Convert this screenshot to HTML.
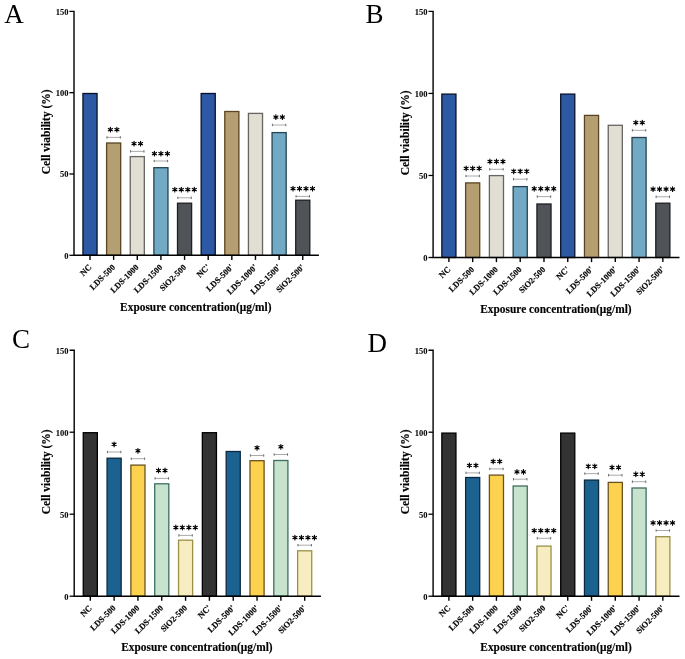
<!DOCTYPE html>
<html><head><meta charset="utf-8"><style>
html,body{margin:0;padding:0;background:#fff;}
body{width:685px;height:659px;overflow:hidden;}
svg{display:block;}
text{filter:grayscale(1);}
.let{font-family:"Liberation Serif",serif;font-size:27px;fill:#000;}
.tk{font-family:"Liberation Serif",serif;font-weight:bold;font-size:8.5px;fill:#000;stroke:#000;stroke-width:0.18px;}
.ttl{font-family:"Liberation Serif",serif;font-weight:bold;font-size:11.25px;fill:#000;stroke:#000;stroke-width:0.15px;}
.yl{font-size:11.5px;}
.xt{font-size:12px;}
.yt{stroke-width:0.05px;}
</style></head><body>
<svg width="685" height="659" viewBox="0 0 685 659">
<rect width="685" height="659" fill="#fff"/>
<text x="4.3" y="23.0" class="let">A</text>
<rect x="82.95" y="93.50" width="14.10" height="161.80" fill="#2D58A3" stroke="#081226" stroke-width="1.3"/>
<rect x="106.59" y="143.00" width="14.10" height="112.30" fill="#B59E72" stroke="#5A4422" stroke-width="1.3"/>
<rect x="130.23" y="156.60" width="14.10" height="98.70" fill="#E1DED3" stroke="#67655F" stroke-width="1.3"/>
<rect x="153.87" y="167.70" width="14.10" height="87.60" fill="#72AAC6" stroke="#24434E" stroke-width="1.3"/>
<rect x="177.51" y="203.20" width="14.10" height="52.10" fill="#505358" stroke="#1E1F22" stroke-width="1.3"/>
<rect x="201.15" y="93.50" width="14.10" height="161.80" fill="#2D58A3" stroke="#081226" stroke-width="1.3"/>
<rect x="224.79" y="111.50" width="14.10" height="143.80" fill="#B59E72" stroke="#5A4422" stroke-width="1.3"/>
<rect x="248.43" y="113.40" width="14.10" height="141.90" fill="#E1DED3" stroke="#67655F" stroke-width="1.3"/>
<rect x="272.07" y="132.60" width="14.10" height="122.70" fill="#72AAC6" stroke="#24434E" stroke-width="1.3"/>
<rect x="295.71" y="200.20" width="14.10" height="55.10" fill="#505358" stroke="#1E1F22" stroke-width="1.3"/>
<path d="M106.94 137.40H120.34" stroke="#a0a0a0" stroke-width="0.9" fill="none"/>
<path d="M106.94 136.20V138.60M120.34 136.20V138.60" stroke="#6a6a6a" stroke-width="1.0" fill="none"/>
<path d="M110.39 127.25L110.39 131.95M112.43 128.42L108.35 130.78M112.43 130.78L108.35 128.42M116.89 127.25L116.89 131.95M118.93 128.42L114.85 130.78M118.93 130.78L114.85 128.42" stroke="#000" stroke-width="1.15" stroke-linecap="round" fill="none"/>
<circle cx="110.39" cy="129.60" r="0.95"/><circle cx="116.89" cy="129.60" r="0.95"/>
<path d="M130.58 151.40H143.98" stroke="#a0a0a0" stroke-width="0.9" fill="none"/>
<path d="M130.58 150.20V152.60M143.98 150.20V152.60" stroke="#6a6a6a" stroke-width="1.0" fill="none"/>
<path d="M134.03 141.25L134.03 145.95M136.07 142.42L131.99 144.78M136.07 144.78L131.99 142.42M140.53 141.25L140.53 145.95M142.57 142.42L138.49 144.78M142.57 144.78L138.49 142.42" stroke="#000" stroke-width="1.15" stroke-linecap="round" fill="none"/>
<circle cx="134.03" cy="143.60" r="0.95"/><circle cx="140.53" cy="143.60" r="0.95"/>
<path d="M154.22 161.00H167.62" stroke="#a0a0a0" stroke-width="0.9" fill="none"/>
<path d="M154.22 159.80V162.20M167.62 159.80V162.20" stroke="#6a6a6a" stroke-width="1.0" fill="none"/>
<path d="M154.42 151.25L154.42 155.95M156.46 152.42L152.38 154.78M156.46 154.78L152.38 152.42M160.92 151.25L160.92 155.95M162.96 152.42L158.88 154.78M162.96 154.78L158.88 152.42M167.42 151.25L167.42 155.95M169.46 152.42L165.38 154.78M169.46 154.78L165.38 152.42" stroke="#000" stroke-width="1.15" stroke-linecap="round" fill="none"/>
<circle cx="154.42" cy="153.60" r="0.95"/><circle cx="160.92" cy="153.60" r="0.95"/><circle cx="167.42" cy="153.60" r="0.95"/>
<path d="M177.86 197.80H191.26" stroke="#a0a0a0" stroke-width="0.9" fill="none"/>
<path d="M177.86 196.60V199.00M191.26 196.60V199.00" stroke="#6a6a6a" stroke-width="1.0" fill="none"/>
<path d="M174.81 187.25L174.81 191.95M176.85 188.42L172.77 190.78M176.85 190.78L172.77 188.42M181.31 187.25L181.31 191.95M183.35 188.42L179.27 190.78M183.35 190.78L179.27 188.42M187.81 187.25L187.81 191.95M189.85 188.42L185.77 190.78M189.85 190.78L185.77 188.42M194.31 187.25L194.31 191.95M196.35 188.42L192.27 190.78M196.35 190.78L192.27 188.42" stroke="#000" stroke-width="1.15" stroke-linecap="round" fill="none"/>
<circle cx="174.81" cy="189.60" r="0.95"/><circle cx="181.31" cy="189.60" r="0.95"/><circle cx="187.81" cy="189.60" r="0.95"/><circle cx="194.31" cy="189.60" r="0.95"/>
<path d="M272.42 125.00H285.82" stroke="#a0a0a0" stroke-width="0.9" fill="none"/>
<path d="M272.42 123.80V126.20M285.82 123.80V126.20" stroke="#6a6a6a" stroke-width="1.0" fill="none"/>
<path d="M275.87 114.75L275.87 119.45M277.91 115.92L273.83 118.27M277.91 118.27L273.83 115.92M282.37 114.75L282.37 119.45M284.41 115.92L280.33 118.27M284.41 118.27L280.33 115.92" stroke="#000" stroke-width="1.15" stroke-linecap="round" fill="none"/>
<circle cx="275.87" cy="117.10" r="0.95"/><circle cx="282.37" cy="117.10" r="0.95"/>
<path d="M296.06 196.40H309.46" stroke="#a0a0a0" stroke-width="0.9" fill="none"/>
<path d="M296.06 195.20V197.60M309.46 195.20V197.60" stroke="#6a6a6a" stroke-width="1.0" fill="none"/>
<path d="M293.01 186.25L293.01 190.95M295.05 187.42L290.97 189.78M295.05 189.78L290.97 187.42M299.51 186.25L299.51 190.95M301.55 187.42L297.47 189.78M301.55 189.78L297.47 187.42M306.01 186.25L306.01 190.95M308.05 187.42L303.97 189.78M308.05 189.78L303.97 187.42M312.51 186.25L312.51 190.95M314.55 187.42L310.47 189.78M314.55 189.78L310.47 187.42" stroke="#000" stroke-width="1.15" stroke-linecap="round" fill="none"/>
<circle cx="293.01" cy="188.60" r="0.95"/><circle cx="299.51" cy="188.60" r="0.95"/><circle cx="306.01" cy="188.60" r="0.95"/><circle cx="312.51" cy="188.60" r="0.95"/>
<path d="M69.40 11.35H74.00V255.30H318.90" stroke="#000" stroke-width="1.4" fill="none" stroke-linejoin="miter"/>
<path d="M69.40 255.30H74.00" stroke="#000" stroke-width="1.3"/>
<text x="68.40" y="258.60" class="tk yt" text-anchor="end">0</text>
<path d="M69.40 173.98H74.00" stroke="#000" stroke-width="1.3"/>
<text x="68.40" y="177.28" class="tk yt" text-anchor="end">50</text>
<path d="M69.40 92.67H74.00" stroke="#000" stroke-width="1.3"/>
<text x="68.40" y="95.97" class="tk yt" text-anchor="end">100</text>
<text x="68.40" y="14.65" class="tk yt" text-anchor="end">150</text>
<path d="M90.00 255.30V259.90" stroke="#000" stroke-width="1.4"/>
<text transform="translate(92.10 267.70) rotate(-45)" class="tk" text-anchor="end">NC</text>
<path d="M113.64 255.30V259.90" stroke="#000" stroke-width="1.4"/>
<text transform="translate(115.74 267.70) rotate(-45)" class="tk" text-anchor="end">LDS-500</text>
<path d="M137.28 255.30V259.90" stroke="#000" stroke-width="1.4"/>
<text transform="translate(139.38 267.70) rotate(-45)" class="tk" text-anchor="end">LDS-1000</text>
<path d="M160.92 255.30V259.90" stroke="#000" stroke-width="1.4"/>
<text transform="translate(163.02 267.70) rotate(-45)" class="tk" text-anchor="end">LDS-1500</text>
<path d="M184.56 255.30V259.90" stroke="#000" stroke-width="1.4"/>
<text transform="translate(186.66 267.70) rotate(-45)" class="tk" text-anchor="end">SiO2-500</text>
<path d="M208.20 255.30V259.90" stroke="#000" stroke-width="1.4"/>
<text transform="translate(210.30 267.70) rotate(-45)" class="tk" text-anchor="end">NC&#39;</text>
<path d="M231.84 255.30V259.90" stroke="#000" stroke-width="1.4"/>
<text transform="translate(233.94 267.70) rotate(-45)" class="tk" text-anchor="end">LDS-500&#39;</text>
<path d="M255.48 255.30V259.90" stroke="#000" stroke-width="1.4"/>
<text transform="translate(257.58 267.70) rotate(-45)" class="tk" text-anchor="end">LDS-1000&#39;</text>
<path d="M279.12 255.30V259.90" stroke="#000" stroke-width="1.4"/>
<text transform="translate(281.22 267.70) rotate(-45)" class="tk" text-anchor="end">LDS-1500&#39;</text>
<path d="M302.76 255.30V259.90" stroke="#000" stroke-width="1.4"/>
<text transform="translate(304.86 267.70) rotate(-45)" class="tk" text-anchor="end">SiO2-500&#39;</text>
<text transform="translate(50.00 131.85) rotate(-90)" class="ttl yl" text-anchor="middle">Cell viability (%)</text>
<text transform="translate(271.50 310.60) scale(0.95 1)" class="ttl xt" text-anchor="end">Exposure concentration(μg/ml)</text>
<text x="365.6" y="23.1" class="let">B</text>
<rect x="441.85" y="94.10" width="14.10" height="163.40" fill="#2D58A3" stroke="#081226" stroke-width="1.3"/>
<rect x="465.62" y="182.90" width="14.10" height="74.60" fill="#B59E72" stroke="#5A4422" stroke-width="1.3"/>
<rect x="489.39" y="175.60" width="14.10" height="81.90" fill="#E1DED3" stroke="#67655F" stroke-width="1.3"/>
<rect x="513.16" y="186.60" width="14.10" height="70.90" fill="#72AAC6" stroke="#24434E" stroke-width="1.3"/>
<rect x="536.93" y="204.00" width="14.10" height="53.50" fill="#505358" stroke="#1E1F22" stroke-width="1.3"/>
<rect x="560.70" y="94.10" width="14.10" height="163.40" fill="#2D58A3" stroke="#081226" stroke-width="1.3"/>
<rect x="584.47" y="115.40" width="14.10" height="142.10" fill="#B59E72" stroke="#5A4422" stroke-width="1.3"/>
<rect x="608.24" y="125.30" width="14.10" height="132.20" fill="#E1DED3" stroke="#67655F" stroke-width="1.3"/>
<rect x="632.01" y="137.50" width="14.10" height="120.00" fill="#72AAC6" stroke="#24434E" stroke-width="1.3"/>
<rect x="655.78" y="203.20" width="14.10" height="54.30" fill="#505358" stroke="#1E1F22" stroke-width="1.3"/>
<path d="M465.97 176.00H479.37" stroke="#a0a0a0" stroke-width="0.9" fill="none"/>
<path d="M465.97 174.80V177.20M479.37 174.80V177.20" stroke="#6a6a6a" stroke-width="1.0" fill="none"/>
<path d="M466.17 166.05L466.17 170.75M468.21 167.22L464.13 169.58M468.21 169.58L464.13 167.22M472.67 166.05L472.67 170.75M474.71 167.22L470.63 169.58M474.71 169.58L470.63 167.22M479.17 166.05L479.17 170.75M481.21 167.22L477.13 169.58M481.21 169.58L477.13 167.22" stroke="#000" stroke-width="1.15" stroke-linecap="round" fill="none"/>
<circle cx="466.17" cy="168.40" r="0.95"/><circle cx="472.67" cy="168.40" r="0.95"/><circle cx="479.17" cy="168.40" r="0.95"/>
<path d="M489.74 169.30H503.14" stroke="#a0a0a0" stroke-width="0.9" fill="none"/>
<path d="M489.74 168.10V170.50M503.14 168.10V170.50" stroke="#6a6a6a" stroke-width="1.0" fill="none"/>
<path d="M489.94 159.15L489.94 163.85M491.98 160.32L487.90 162.68M491.98 162.68L487.90 160.32M496.44 159.15L496.44 163.85M498.48 160.32L494.40 162.68M498.48 162.68L494.40 160.32M502.94 159.15L502.94 163.85M504.98 160.32L500.90 162.68M504.98 162.68L500.90 160.32" stroke="#000" stroke-width="1.15" stroke-linecap="round" fill="none"/>
<circle cx="489.94" cy="161.50" r="0.95"/><circle cx="496.44" cy="161.50" r="0.95"/><circle cx="502.94" cy="161.50" r="0.95"/>
<path d="M513.51 179.20H526.91" stroke="#a0a0a0" stroke-width="0.9" fill="none"/>
<path d="M513.51 178.00V180.40M526.91 178.00V180.40" stroke="#6a6a6a" stroke-width="1.0" fill="none"/>
<path d="M513.71 168.95L513.71 173.65M515.75 170.12L511.67 172.47M515.75 172.47L511.67 170.12M520.21 168.95L520.21 173.65M522.25 170.12L518.17 172.47M522.25 172.47L518.17 170.12M526.71 168.95L526.71 173.65M528.75 170.12L524.67 172.47M528.75 172.47L524.67 170.12" stroke="#000" stroke-width="1.15" stroke-linecap="round" fill="none"/>
<circle cx="513.71" cy="171.30" r="0.95"/><circle cx="520.21" cy="171.30" r="0.95"/><circle cx="526.71" cy="171.30" r="0.95"/>
<path d="M537.28 196.60H550.68" stroke="#a0a0a0" stroke-width="0.9" fill="none"/>
<path d="M537.28 195.40V197.80M550.68 195.40V197.80" stroke="#6a6a6a" stroke-width="1.0" fill="none"/>
<path d="M534.23 186.35L534.23 191.05M536.27 187.52L532.19 189.88M536.27 189.88L532.19 187.52M540.73 186.35L540.73 191.05M542.77 187.52L538.69 189.88M542.77 189.88L538.69 187.52M547.23 186.35L547.23 191.05M549.27 187.52L545.19 189.88M549.27 189.88L545.19 187.52M553.73 186.35L553.73 191.05M555.77 187.52L551.69 189.88M555.77 189.88L551.69 187.52" stroke="#000" stroke-width="1.15" stroke-linecap="round" fill="none"/>
<circle cx="534.23" cy="188.70" r="0.95"/><circle cx="540.73" cy="188.70" r="0.95"/><circle cx="547.23" cy="188.70" r="0.95"/><circle cx="553.73" cy="188.70" r="0.95"/>
<path d="M632.36 130.30H645.76" stroke="#a0a0a0" stroke-width="0.9" fill="none"/>
<path d="M632.36 129.10V131.50M645.76 129.10V131.50" stroke="#6a6a6a" stroke-width="1.0" fill="none"/>
<path d="M635.81 120.25L635.81 124.95M637.85 121.42L633.77 123.77M637.85 123.77L633.77 121.42M642.31 120.25L642.31 124.95M644.35 121.42L640.27 123.77M644.35 123.77L640.27 121.42" stroke="#000" stroke-width="1.15" stroke-linecap="round" fill="none"/>
<circle cx="635.81" cy="122.60" r="0.95"/><circle cx="642.31" cy="122.60" r="0.95"/>
<path d="M656.13 196.80H669.53" stroke="#a0a0a0" stroke-width="0.9" fill="none"/>
<path d="M656.13 195.60V198.00M669.53 195.60V198.00" stroke="#6a6a6a" stroke-width="1.0" fill="none"/>
<path d="M653.08 186.75L653.08 191.45M655.12 187.92L651.04 190.28M655.12 190.28L651.04 187.92M659.58 186.75L659.58 191.45M661.62 187.92L657.54 190.28M661.62 190.28L657.54 187.92M666.08 186.75L666.08 191.45M668.12 187.92L664.04 190.28M668.12 190.28L664.04 187.92M672.58 186.75L672.58 191.45M674.62 187.92L670.54 190.28M674.62 190.28L670.54 187.92" stroke="#000" stroke-width="1.15" stroke-linecap="round" fill="none"/>
<circle cx="653.08" cy="189.10" r="0.95"/><circle cx="659.58" cy="189.10" r="0.95"/><circle cx="666.08" cy="189.10" r="0.95"/><circle cx="672.58" cy="189.10" r="0.95"/>
<path d="M428.50 11.40H433.10V257.50H679.50" stroke="#000" stroke-width="1.4" fill="none" stroke-linejoin="miter"/>
<path d="M428.50 257.50H433.10" stroke="#000" stroke-width="1.3"/>
<text x="427.50" y="260.80" class="tk yt" text-anchor="end">0</text>
<path d="M428.50 175.47H433.10" stroke="#000" stroke-width="1.3"/>
<text x="427.50" y="178.77" class="tk yt" text-anchor="end">50</text>
<path d="M428.50 93.43H433.10" stroke="#000" stroke-width="1.3"/>
<text x="427.50" y="96.73" class="tk yt" text-anchor="end">100</text>
<text x="427.50" y="14.70" class="tk yt" text-anchor="end">150</text>
<path d="M448.90 257.50V262.10" stroke="#000" stroke-width="1.4"/>
<text transform="translate(451.00 269.90) rotate(-45)" class="tk" text-anchor="end">NC</text>
<path d="M472.67 257.50V262.10" stroke="#000" stroke-width="1.4"/>
<text transform="translate(474.77 269.90) rotate(-45)" class="tk" text-anchor="end">LDS-500</text>
<path d="M496.44 257.50V262.10" stroke="#000" stroke-width="1.4"/>
<text transform="translate(498.54 269.90) rotate(-45)" class="tk" text-anchor="end">LDS-1000</text>
<path d="M520.21 257.50V262.10" stroke="#000" stroke-width="1.4"/>
<text transform="translate(522.31 269.90) rotate(-45)" class="tk" text-anchor="end">LDS-1500</text>
<path d="M543.98 257.50V262.10" stroke="#000" stroke-width="1.4"/>
<text transform="translate(546.08 269.90) rotate(-45)" class="tk" text-anchor="end">SiO2-500</text>
<path d="M567.75 257.50V262.10" stroke="#000" stroke-width="1.4"/>
<text transform="translate(569.85 269.90) rotate(-45)" class="tk" text-anchor="end">NC&#39;</text>
<path d="M591.52 257.50V262.10" stroke="#000" stroke-width="1.4"/>
<text transform="translate(593.62 269.90) rotate(-45)" class="tk" text-anchor="end">LDS-500&#39;</text>
<path d="M615.29 257.50V262.10" stroke="#000" stroke-width="1.4"/>
<text transform="translate(617.39 269.90) rotate(-45)" class="tk" text-anchor="end">LDS-1000&#39;</text>
<path d="M639.06 257.50V262.10" stroke="#000" stroke-width="1.4"/>
<text transform="translate(641.16 269.90) rotate(-45)" class="tk" text-anchor="end">LDS-1500&#39;</text>
<path d="M662.83 257.50V262.10" stroke="#000" stroke-width="1.4"/>
<text transform="translate(664.93 269.90) rotate(-45)" class="tk" text-anchor="end">SiO2-500&#39;</text>
<text transform="translate(408.80 132.85) rotate(-90)" class="ttl yl" text-anchor="middle">Cell viability (%)</text>
<text transform="translate(631.60 312.60) scale(0.95 1)" class="ttl xt" text-anchor="end">Exposure concentration(μg/ml)</text>
<text x="11.9" y="347.7" class="let">C</text>
<rect x="83.25" y="432.70" width="14.10" height="163.50" fill="#333333" stroke="#000000" stroke-width="1.3"/>
<rect x="107.07" y="458.20" width="14.10" height="138.00" fill="#1B6291" stroke="#0B2A40" stroke-width="1.3"/>
<rect x="130.89" y="465.10" width="14.10" height="131.10" fill="#FDD24F" stroke="#6A5220" stroke-width="1.3"/>
<rect x="154.71" y="483.80" width="14.10" height="112.40" fill="#C7E3CD" stroke="#3E6D61" stroke-width="1.3"/>
<rect x="178.53" y="540.20" width="14.10" height="56.00" fill="#F7EDC1" stroke="#999147" stroke-width="1.3"/>
<rect x="202.35" y="432.70" width="14.10" height="163.50" fill="#333333" stroke="#000000" stroke-width="1.3"/>
<rect x="226.17" y="451.50" width="14.10" height="144.70" fill="#1B6291" stroke="#0B2A40" stroke-width="1.3"/>
<rect x="249.99" y="460.70" width="14.10" height="135.50" fill="#FDD24F" stroke="#6A5220" stroke-width="1.3"/>
<rect x="273.81" y="460.50" width="14.10" height="135.70" fill="#C7E3CD" stroke="#3E6D61" stroke-width="1.3"/>
<rect x="297.63" y="550.80" width="14.10" height="45.40" fill="#F7EDC1" stroke="#999147" stroke-width="1.3"/>
<path d="M107.42 452.00H120.82" stroke="#a0a0a0" stroke-width="0.9" fill="none"/>
<path d="M107.42 450.80V453.20M120.82 450.80V453.20" stroke="#6a6a6a" stroke-width="1.0" fill="none"/>
<path d="M114.12 441.95L114.12 446.65M116.16 443.12L112.08 445.48M116.16 445.48L112.08 443.12" stroke="#000" stroke-width="1.15" stroke-linecap="round" fill="none"/>
<circle cx="114.12" cy="444.30" r="0.95"/>
<path d="M131.24 458.70H144.64" stroke="#a0a0a0" stroke-width="0.9" fill="none"/>
<path d="M131.24 457.50V459.90M144.64 457.50V459.90" stroke="#6a6a6a" stroke-width="1.0" fill="none"/>
<path d="M137.94 448.45L137.94 453.15M139.98 449.62L135.90 451.98M139.98 451.98L135.90 449.62" stroke="#000" stroke-width="1.15" stroke-linecap="round" fill="none"/>
<circle cx="137.94" cy="450.80" r="0.95"/>
<path d="M155.06 478.40H168.46" stroke="#a0a0a0" stroke-width="0.9" fill="none"/>
<path d="M155.06 477.20V479.60M168.46 477.20V479.60" stroke="#6a6a6a" stroke-width="1.0" fill="none"/>
<path d="M158.51 468.15L158.51 472.85M160.55 469.32L156.47 471.68M160.55 471.68L156.47 469.32M165.01 468.15L165.01 472.85M167.05 469.32L162.97 471.68M167.05 471.68L162.97 469.32" stroke="#000" stroke-width="1.15" stroke-linecap="round" fill="none"/>
<circle cx="158.51" cy="470.50" r="0.95"/><circle cx="165.01" cy="470.50" r="0.95"/>
<path d="M178.88 535.40H192.28" stroke="#a0a0a0" stroke-width="0.9" fill="none"/>
<path d="M178.88 534.20V536.60M192.28 534.20V536.60" stroke="#6a6a6a" stroke-width="1.0" fill="none"/>
<path d="M175.83 525.15L175.83 529.85M177.87 526.33L173.79 528.67M177.87 528.67L173.79 526.33M182.33 525.15L182.33 529.85M184.37 526.33L180.29 528.67M184.37 528.67L180.29 526.33M188.83 525.15L188.83 529.85M190.87 526.33L186.79 528.67M190.87 528.67L186.79 526.33M195.33 525.15L195.33 529.85M197.37 526.33L193.29 528.67M197.37 528.67L193.29 526.33" stroke="#000" stroke-width="1.15" stroke-linecap="round" fill="none"/>
<circle cx="175.83" cy="527.50" r="0.95"/><circle cx="182.33" cy="527.50" r="0.95"/><circle cx="188.83" cy="527.50" r="0.95"/><circle cx="195.33" cy="527.50" r="0.95"/>
<path d="M250.34 455.50H263.74" stroke="#a0a0a0" stroke-width="0.9" fill="none"/>
<path d="M250.34 454.30V456.70M263.74 454.30V456.70" stroke="#6a6a6a" stroke-width="1.0" fill="none"/>
<path d="M257.04 445.45L257.04 450.15M259.08 446.62L255.00 448.98M259.08 448.98L255.00 446.62" stroke="#000" stroke-width="1.15" stroke-linecap="round" fill="none"/>
<circle cx="257.04" cy="447.80" r="0.95"/>
<path d="M274.16 454.50H287.56" stroke="#a0a0a0" stroke-width="0.9" fill="none"/>
<path d="M274.16 453.30V455.70M287.56 453.30V455.70" stroke="#6a6a6a" stroke-width="1.0" fill="none"/>
<path d="M280.86 444.45L280.86 449.15M282.90 445.62L278.82 447.98M282.90 447.98L278.82 445.62" stroke="#000" stroke-width="1.15" stroke-linecap="round" fill="none"/>
<circle cx="280.86" cy="446.80" r="0.95"/>
<path d="M297.98 545.20H311.38" stroke="#a0a0a0" stroke-width="0.9" fill="none"/>
<path d="M297.98 544.00V546.40M311.38 544.00V546.40" stroke="#6a6a6a" stroke-width="1.0" fill="none"/>
<path d="M294.93 535.25L294.93 539.95M296.97 536.43L292.89 538.77M296.97 538.77L292.89 536.43M301.43 535.25L301.43 539.95M303.47 536.43L299.39 538.77M303.47 538.77L299.39 536.43M307.93 535.25L307.93 539.95M309.97 536.43L305.89 538.77M309.97 538.77L305.89 536.43M314.43 535.25L314.43 539.95M316.47 536.43L312.39 538.77M316.47 538.77L312.39 536.43" stroke="#000" stroke-width="1.15" stroke-linecap="round" fill="none"/>
<circle cx="294.93" cy="537.60" r="0.95"/><circle cx="301.43" cy="537.60" r="0.95"/><circle cx="307.93" cy="537.60" r="0.95"/><circle cx="314.43" cy="537.60" r="0.95"/>
<path d="M69.60 350.20H74.20V596.20H320.90" stroke="#000" stroke-width="1.4" fill="none" stroke-linejoin="miter"/>
<path d="M69.60 596.20H74.20" stroke="#000" stroke-width="1.3"/>
<text x="68.60" y="599.50" class="tk yt" text-anchor="end">0</text>
<path d="M69.60 514.20H74.20" stroke="#000" stroke-width="1.3"/>
<text x="68.60" y="517.50" class="tk yt" text-anchor="end">50</text>
<path d="M69.60 432.20H74.20" stroke="#000" stroke-width="1.3"/>
<text x="68.60" y="435.50" class="tk yt" text-anchor="end">100</text>
<text x="68.60" y="353.50" class="tk yt" text-anchor="end">150</text>
<path d="M90.30 596.20V600.80" stroke="#000" stroke-width="1.4"/>
<text transform="translate(92.40 608.60) rotate(-45)" class="tk" text-anchor="end">NC</text>
<path d="M114.12 596.20V600.80" stroke="#000" stroke-width="1.4"/>
<text transform="translate(116.22 608.60) rotate(-45)" class="tk" text-anchor="end">LDS-500</text>
<path d="M137.94 596.20V600.80" stroke="#000" stroke-width="1.4"/>
<text transform="translate(140.04 608.60) rotate(-45)" class="tk" text-anchor="end">LDS-1000</text>
<path d="M161.76 596.20V600.80" stroke="#000" stroke-width="1.4"/>
<text transform="translate(163.86 608.60) rotate(-45)" class="tk" text-anchor="end">LDS-1500</text>
<path d="M185.58 596.20V600.80" stroke="#000" stroke-width="1.4"/>
<text transform="translate(187.68 608.60) rotate(-45)" class="tk" text-anchor="end">SiO2-500</text>
<path d="M209.40 596.20V600.80" stroke="#000" stroke-width="1.4"/>
<text transform="translate(211.50 608.60) rotate(-45)" class="tk" text-anchor="end">NC&#39;</text>
<path d="M233.22 596.20V600.80" stroke="#000" stroke-width="1.4"/>
<text transform="translate(235.32 608.60) rotate(-45)" class="tk" text-anchor="end">LDS-500&#39;</text>
<path d="M257.04 596.20V600.80" stroke="#000" stroke-width="1.4"/>
<text transform="translate(259.14 608.60) rotate(-45)" class="tk" text-anchor="end">LDS-1000&#39;</text>
<path d="M280.86 596.20V600.80" stroke="#000" stroke-width="1.4"/>
<text transform="translate(282.96 608.60) rotate(-45)" class="tk" text-anchor="end">LDS-1500&#39;</text>
<path d="M304.68 596.20V600.80" stroke="#000" stroke-width="1.4"/>
<text transform="translate(306.78 608.60) rotate(-45)" class="tk" text-anchor="end">SiO2-500&#39;</text>
<text transform="translate(49.80 471.85) rotate(-90)" class="ttl yl" text-anchor="middle">Cell viability (%)</text>
<text transform="translate(272.60 651.20) scale(0.95 1)" class="ttl xt" text-anchor="end">Exposure concentration(μg/ml)</text>
<text x="367.5" y="352.3" class="let">D</text>
<rect x="441.85" y="433.10" width="14.10" height="163.10" fill="#333333" stroke="#000000" stroke-width="1.3"/>
<rect x="465.62" y="477.50" width="14.10" height="118.70" fill="#1B6291" stroke="#0B2A40" stroke-width="1.3"/>
<rect x="489.39" y="475.10" width="14.10" height="121.10" fill="#FDD24F" stroke="#6A5220" stroke-width="1.3"/>
<rect x="513.16" y="486.00" width="14.10" height="110.20" fill="#C7E3CD" stroke="#3E6D61" stroke-width="1.3"/>
<rect x="536.93" y="546.10" width="14.10" height="50.10" fill="#F7EDC1" stroke="#999147" stroke-width="1.3"/>
<rect x="560.70" y="433.10" width="14.10" height="163.10" fill="#333333" stroke="#000000" stroke-width="1.3"/>
<rect x="584.47" y="480.10" width="14.10" height="116.10" fill="#1B6291" stroke="#0B2A40" stroke-width="1.3"/>
<rect x="608.24" y="482.40" width="14.10" height="113.80" fill="#FDD24F" stroke="#6A5220" stroke-width="1.3"/>
<rect x="632.01" y="488.00" width="14.10" height="108.20" fill="#C7E3CD" stroke="#3E6D61" stroke-width="1.3"/>
<rect x="655.78" y="536.70" width="14.10" height="59.50" fill="#F7EDC1" stroke="#999147" stroke-width="1.3"/>
<path d="M465.97 472.90H479.37" stroke="#a0a0a0" stroke-width="0.9" fill="none"/>
<path d="M465.97 471.70V474.10M479.37 471.70V474.10" stroke="#6a6a6a" stroke-width="1.0" fill="none"/>
<path d="M469.42 463.05L469.42 467.75M471.46 464.23L467.38 466.58M471.46 466.58L467.38 464.23M475.92 463.05L475.92 467.75M477.96 464.23L473.88 466.58M477.96 466.58L473.88 464.23" stroke="#000" stroke-width="1.15" stroke-linecap="round" fill="none"/>
<circle cx="469.42" cy="465.40" r="0.95"/><circle cx="475.92" cy="465.40" r="0.95"/>
<path d="M489.74 468.90H503.14" stroke="#a0a0a0" stroke-width="0.9" fill="none"/>
<path d="M489.74 467.70V470.10M503.14 467.70V470.10" stroke="#6a6a6a" stroke-width="1.0" fill="none"/>
<path d="M493.19 459.05L493.19 463.75M495.23 460.23L491.15 462.58M495.23 462.58L491.15 460.23M499.69 459.05L499.69 463.75M501.73 460.23L497.65 462.58M501.73 462.58L497.65 460.23" stroke="#000" stroke-width="1.15" stroke-linecap="round" fill="none"/>
<circle cx="493.19" cy="461.40" r="0.95"/><circle cx="499.69" cy="461.40" r="0.95"/>
<path d="M513.51 479.20H526.91" stroke="#a0a0a0" stroke-width="0.9" fill="none"/>
<path d="M513.51 478.00V480.40M526.91 478.00V480.40" stroke="#6a6a6a" stroke-width="1.0" fill="none"/>
<path d="M516.96 469.55L516.96 474.25M519.00 470.73L514.92 473.08M519.00 473.08L514.92 470.73M523.46 469.55L523.46 474.25M525.50 470.73L521.42 473.08M525.50 473.08L521.42 470.73" stroke="#000" stroke-width="1.15" stroke-linecap="round" fill="none"/>
<circle cx="516.96" cy="471.90" r="0.95"/><circle cx="523.46" cy="471.90" r="0.95"/>
<path d="M537.28 538.30H550.68" stroke="#a0a0a0" stroke-width="0.9" fill="none"/>
<path d="M537.28 537.10V539.50M550.68 537.10V539.50" stroke="#6a6a6a" stroke-width="1.0" fill="none"/>
<path d="M534.23 528.25L534.23 532.95M536.27 529.43L532.19 531.77M536.27 531.77L532.19 529.43M540.73 528.25L540.73 532.95M542.77 529.43L538.69 531.77M542.77 531.77L538.69 529.43M547.23 528.25L547.23 532.95M549.27 529.43L545.19 531.77M549.27 531.77L545.19 529.43M553.73 528.25L553.73 532.95M555.77 529.43L551.69 531.77M555.77 531.77L551.69 529.43" stroke="#000" stroke-width="1.15" stroke-linecap="round" fill="none"/>
<circle cx="534.23" cy="530.60" r="0.95"/><circle cx="540.73" cy="530.60" r="0.95"/><circle cx="547.23" cy="530.60" r="0.95"/><circle cx="553.73" cy="530.60" r="0.95"/>
<path d="M584.82 473.60H598.22" stroke="#a0a0a0" stroke-width="0.9" fill="none"/>
<path d="M584.82 472.40V474.80M598.22 472.40V474.80" stroke="#6a6a6a" stroke-width="1.0" fill="none"/>
<path d="M588.27 463.95L588.27 468.65M590.31 465.12L586.23 467.48M590.31 467.48L586.23 465.12M594.77 463.95L594.77 468.65M596.81 465.12L592.73 467.48M596.81 467.48L592.73 465.12" stroke="#000" stroke-width="1.15" stroke-linecap="round" fill="none"/>
<circle cx="588.27" cy="466.30" r="0.95"/><circle cx="594.77" cy="466.30" r="0.95"/>
<path d="M608.59 475.20H621.99" stroke="#a0a0a0" stroke-width="0.9" fill="none"/>
<path d="M608.59 474.00V476.40M621.99 474.00V476.40" stroke="#6a6a6a" stroke-width="1.0" fill="none"/>
<path d="M612.04 465.15L612.04 469.85M614.08 466.32L610.00 468.68M614.08 468.68L610.00 466.32M618.54 465.15L618.54 469.85M620.58 466.32L616.50 468.68M620.58 468.68L616.50 466.32" stroke="#000" stroke-width="1.15" stroke-linecap="round" fill="none"/>
<circle cx="612.04" cy="467.50" r="0.95"/><circle cx="618.54" cy="467.50" r="0.95"/>
<path d="M632.36 481.70H645.76" stroke="#a0a0a0" stroke-width="0.9" fill="none"/>
<path d="M632.36 480.50V482.90M645.76 480.50V482.90" stroke="#6a6a6a" stroke-width="1.0" fill="none"/>
<path d="M635.81 471.85L635.81 476.55M637.85 473.03L633.77 475.38M637.85 475.38L633.77 473.03M642.31 471.85L642.31 476.55M644.35 473.03L640.27 475.38M644.35 475.38L640.27 473.03" stroke="#000" stroke-width="1.15" stroke-linecap="round" fill="none"/>
<circle cx="635.81" cy="474.20" r="0.95"/><circle cx="642.31" cy="474.20" r="0.95"/>
<path d="M656.13 530.50H669.53" stroke="#a0a0a0" stroke-width="0.9" fill="none"/>
<path d="M656.13 529.30V531.70M669.53 529.30V531.70" stroke="#6a6a6a" stroke-width="1.0" fill="none"/>
<path d="M653.08 520.45L653.08 525.15M655.12 521.63L651.04 523.98M655.12 523.98L651.04 521.63M659.58 520.45L659.58 525.15M661.62 521.63L657.54 523.98M661.62 523.98L657.54 521.63M666.08 520.45L666.08 525.15M668.12 521.63L664.04 523.98M668.12 523.98L664.04 521.63M672.58 520.45L672.58 525.15M674.62 521.63L670.54 523.98M674.62 523.98L670.54 521.63" stroke="#000" stroke-width="1.15" stroke-linecap="round" fill="none"/>
<circle cx="653.08" cy="522.80" r="0.95"/><circle cx="659.58" cy="522.80" r="0.95"/><circle cx="666.08" cy="522.80" r="0.95"/><circle cx="672.58" cy="522.80" r="0.95"/>
<path d="M428.50 350.20H433.10V596.20H679.50" stroke="#000" stroke-width="1.4" fill="none" stroke-linejoin="miter"/>
<path d="M428.50 596.20H433.10" stroke="#000" stroke-width="1.3"/>
<text x="427.50" y="599.50" class="tk yt" text-anchor="end">0</text>
<path d="M428.50 514.20H433.10" stroke="#000" stroke-width="1.3"/>
<text x="427.50" y="517.50" class="tk yt" text-anchor="end">50</text>
<path d="M428.50 432.20H433.10" stroke="#000" stroke-width="1.3"/>
<text x="427.50" y="435.50" class="tk yt" text-anchor="end">100</text>
<text x="427.50" y="353.50" class="tk yt" text-anchor="end">150</text>
<path d="M448.90 596.20V600.80" stroke="#000" stroke-width="1.4"/>
<text transform="translate(451.00 608.60) rotate(-45)" class="tk" text-anchor="end">NC</text>
<path d="M472.67 596.20V600.80" stroke="#000" stroke-width="1.4"/>
<text transform="translate(474.77 608.60) rotate(-45)" class="tk" text-anchor="end">LDS-500</text>
<path d="M496.44 596.20V600.80" stroke="#000" stroke-width="1.4"/>
<text transform="translate(498.54 608.60) rotate(-45)" class="tk" text-anchor="end">LDS-1000</text>
<path d="M520.21 596.20V600.80" stroke="#000" stroke-width="1.4"/>
<text transform="translate(522.31 608.60) rotate(-45)" class="tk" text-anchor="end">LDS-1500</text>
<path d="M543.98 596.20V600.80" stroke="#000" stroke-width="1.4"/>
<text transform="translate(546.08 608.60) rotate(-45)" class="tk" text-anchor="end">SiO2-500</text>
<path d="M567.75 596.20V600.80" stroke="#000" stroke-width="1.4"/>
<text transform="translate(569.85 608.60) rotate(-45)" class="tk" text-anchor="end">NC&#39;</text>
<path d="M591.52 596.20V600.80" stroke="#000" stroke-width="1.4"/>
<text transform="translate(593.62 608.60) rotate(-45)" class="tk" text-anchor="end">LDS-500&#39;</text>
<path d="M615.29 596.20V600.80" stroke="#000" stroke-width="1.4"/>
<text transform="translate(617.39 608.60) rotate(-45)" class="tk" text-anchor="end">LDS-1000&#39;</text>
<path d="M639.06 596.20V600.80" stroke="#000" stroke-width="1.4"/>
<text transform="translate(641.16 608.60) rotate(-45)" class="tk" text-anchor="end">LDS-1500&#39;</text>
<path d="M662.83 596.20V600.80" stroke="#000" stroke-width="1.4"/>
<text transform="translate(664.93 608.60) rotate(-45)" class="tk" text-anchor="end">SiO2-500&#39;</text>
<text transform="translate(408.50 471.85) rotate(-90)" class="ttl yl" text-anchor="middle">Cell viability (%)</text>
<text transform="translate(631.70 651.30) scale(0.95 1)" class="ttl xt" text-anchor="end">Exposure concentration(μg/ml)</text>
</svg>
</body></html>
